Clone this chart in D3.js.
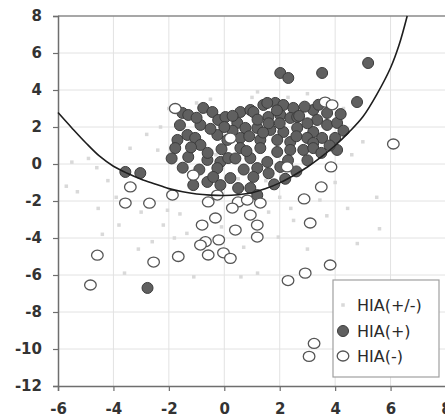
<!DOCTYPE html>
<html>
<head>
<meta charset="utf-8">
<script src="https://cdn.jsdelivr.net/npm/d3@7"></script>
<style>
  html, body { margin: 0; padding: 0; background: #fff; }
  svg { display: block; }
</style>
</head>
<body>
<svg id="chart" width="445" height="419"></svg>
<script>
// ---- data ----
const xTicks = [-6, -4, -2, 0, 2, 4, 6, 8];
const yTicks = [-12, -10, -8, -6, -4, -2, 0, 2, 4, 6, 8];
const seriesNames = ["HIA(+/-)", "HIA(+)", "HIA(-)"];

// HIA(+/-): small light grey markers
const hiaMixed = [
  [-5.3,-1.5],[-4.55,-2.4],[-3.4,0.85],[-2.4,0.75],[-2.05,-2.5],[-1.35,-3.75],[1.95,-3.95],
  [2.5,-3.05],[4.45,-2.4],[3.45,-1.95],[-5.7,-1.2],[-4.9,0.3],[-4.2,-0.9],[-3.8,-3.3],
  [-3.1,-4.6],[-3.6,-5.9],[-2.2,-3.3],[-1.6,-2.7],[-1.0,-1.0],[-0.3,0.5],[0.5,-0.8],
  [1.5,-0.9],[2.4,-2.4],[3.0,-4.6],[3.7,-2.8],[4.0,-1.0],[4.6,0.5],[5.0,1.2],[4.3,3.0],
  [3.0,3.8],[1.0,3.6],[-0.5,3.5],[-1.0,3.3],[-2.3,2.0],[-2.8,1.6],[-3.0,-2.6],[-4.4,-3.8],
  [-5.5,0.1],[-1.8,-4.0],[0.7,-4.5],[1.6,-2.6],[2.0,-1.8],[-0.1,-3.4],[0.6,-6.1],
  [5.5,-1.8],[5.6,-3.5],[4.8,-4.3],[-2.6,-4.2],[-3.9,-1.8],[1.2,3.9],[2.3,3.6],[-2.0,3.0],
  [-4.6,-0.2],[1.2,-5.9],[-1.1,-6.1]
];

// HIA(+): dark filled circles
const hiaPos = [
  [-1.51,2.76],[-1.30,2.65],[-0.76,3.03],[-0.43,2.81],[-0.86,2.11],[-0.22,2.38],[0.04,2.54],
  [0.58,2.81],[0.94,2.92],[0.47,2.22],[0.76,1.95],[-1.33,1.57],[-1.69,1.30],[-1.05,1.41],
  [-0.25,1.57],[0.11,1.30],[0.58,1.41],[1.05,2.81],[1.41,3.19],[1.84,3.30],[2.13,3.19],
  [2.49,3.03],[1.59,2.54],[2.02,2.65],[2.38,2.49],[3.21,2.92],[3.71,2.76],[3.35,2.38],
  [3.71,2.11],[4.07,2.22],[1.19,1.95],[1.66,1.84],[2.13,1.73],[2.63,1.95],[3.21,1.73],
  [1.30,1.30],[1.91,1.30],[2.38,1.19],[2.99,1.41],[3.53,1.41],[4.00,1.41],[3.21,1.14],
  [-1.77,0.86],[-1.30,0.38],[-0.86,1.03],[-0.61,0.22],[-0.14,0.11],[0.14,0.32],[-0.25,-0.22],
  [0.58,0.86],[0.94,0.32],[1.30,0.86],[1.19,-0.22],[1.05,-0.70],[1.55,0.11],[1.91,0.65],
  [2.02,-0.16],[2.38,0.76],[2.85,0.76],[3.21,0.86],[4.07,0.76],[-1.12,-1.14],[-0.61,-0.97],
  [-0.14,-1.14],[0.22,-0.76],[0.94,-1.30],[1.19,-1.68],[-3.03,-0.49],[-3.57,-0.43],
  [2.02,4.92],[2.31,4.65],[3.53,4.92],[5.19,5.46],[4.79,3.35],[-2.77,-6.70],[1.55,3.30],
  [2.63,2.54],[-1.6,2.1],[-1.0,2.5],[-0.5,1.9],[0.3,1.8],[0.9,1.5],[1.6,2.2],[2.7,2.6],
  [3.0,2.2],[2.0,2.2],[1.2,2.4],[0.3,2.6],[-0.1,0.8],[0.4,0.3],[0.7,-0.3],[1.6,-0.5],
  [2.3,0.2],[2.6,-0.4],[3.0,0.2],[3.5,0.6],[3.8,1.0],[4.3,1.8],[-1.5,-0.2],[-0.9,-0.3],
  [-0.4,-0.7],[0.5,-1.3],[1.8,-1.1],[-1.9,0.3],[-1.2,0.9],[0.0,2.0],[1.9,2.9],[2.9,3.1],
  [3.4,3.2],[4.2,2.7],[2.2,-0.8],[-0.6,0.6],[0.8,0.7],[1.4,1.7],[2.6,1.5]
];

// HIA(-): open circles
const hiaNeg = [
  [-1.77,3.0],[3.64,3.35],[3.89,3.2],[6.1,1.08],[3.85,-0.16],[3.5,-1.24],[2.88,-1.89],
  [3.1,-3.19],[3.82,-5.46],[2.92,-5.9],[3.24,-9.7],[3.06,-10.4],[2.3,-6.3],[-3.39,-1.24],
  [-3.57,-2.11],[-2.7,-2.12],[-4.58,-4.93],[-4.83,-6.54],[-1.12,-0.6],[-1.87,-1.68],
  [-0.58,-2.05],[-0.32,-2.92],[-0.8,-3.3],[-0.68,-4.2],[-0.2,-4.1],[-0.86,-4.38],
  [-0.58,-4.92],[-0.03,-4.8],[0.22,-5.1],[-1.66,-5.0],[-2.55,-5.3],[0.4,-3.57],[0.94,-2.76],
  [1.19,-3.3],[1.19,-3.95],[1.3,-2.11],[0.5,-2.05],[0.29,-2.38],[0.83,-1.95],[2.27,-0.16],
  [-0.25,-1.68],[0.22,1.4]
];

// decision boundary curve
const boundary = [
  [-6,2.78],[-5.5,1.95],[-5.0,1.15],[-4.5,0.42],[-4.0,-0.12],[-3.5,-0.5],[-3.0,-0.82],
  [-2.5,-1.08],[-2.0,-1.33],[-1.5,-1.5],[-1.0,-1.62],[-0.5,-1.68],[0,-1.7],[0.5,-1.66],
  [1.0,-1.55],[1.5,-1.33],[2.0,-1.02],[2.5,-0.62],[3.0,-0.16],[3.5,0.38],[4.0,1.0],
  [4.5,1.72],[5.0,2.55],[5.5,3.75],[6.0,5.2],[6.3,6.4],[6.6,8.0]
];

// ---- drawing ----
(function () {
const svg = d3.select("#chart");
const pL = 58, pR = 446, pT = 16, pB = 386;
const x = d3.scaleLinear().domain([-6, 8]).range([pL, pR]);
const y = d3.scaleLinear().domain([-12, 8]).range([pB, pT]);
const font = "'DejaVu Sans', Arial, sans-serif";

// gridlines
const grid = svg.append("g");
grid.selectAll("line.v").data(xTicks.slice(1)).join("line")
  .attr("x1", d => x(d)).attr("x2", d => x(d))
  .attr("y1", pT).attr("y2", pB)
  .attr("stroke", "#e2e2e2").attr("stroke-width", 1);
grid.selectAll("line.h").data(yTicks.slice(1, -1)).join("line")
  .attr("x1", pL).attr("x2", pR)
  .attr("y1", d => y(d)).attr("y2", d => y(d))
  .attr("stroke", "#e2e2e2").attr("stroke-width", 1);

// top border
svg.append("line").attr("x1", pL).attr("x2", pR)
  .attr("y1", y(8)).attr("y2", y(8))
  .attr("stroke", "#8a8a8a").attr("stroke-width", 1.5);

// axes
const yAxis = svg.append("g").attr("transform", `translate(${pL},0)`)
  .call(d3.axisLeft(y).tickValues(yTicks).tickSize(5).tickPadding(11).tickFormat(d => String(d)));
const xAxis = svg.append("g").attr("transform", `translate(0,${pB})`)
  .call(d3.axisBottom(x).tickValues(xTicks).tickSize(5).tickPadding(12).tickFormat(d => String(d)));
[yAxis, xAxis].forEach(g => {
  g.select(".domain").attr("stroke", "#6e6e6e").attr("stroke-width", 1.5);
  g.selectAll(".tick line").attr("stroke", "#6e6e6e").attr("stroke-width", 1.2);
  g.selectAll(".tick text").attr("fill", "#333")
    .style("font-family", font).style("font-size", "15px").style("font-weight", "bold");
});

// HIA(+/-)
svg.append("g").selectAll("rect").data(hiaMixed).join("rect")
  .attr("x", d => x(d[0]) - 1.75).attr("y", d => y(d[1]) - 1.75)
  .attr("width", 3.5).attr("height", 3.5)
  .attr("fill", "#d9d9d9");

// HIA(+)
svg.append("g").selectAll("circle").data(hiaPos).join("circle")
  .attr("cx", d => x(d[0])).attr("cy", d => y(d[1])).attr("r", 5.5)
  .attr("fill", "#606060").attr("stroke", "#3c3c3c").attr("stroke-width", 1);

// HIA(-)
svg.append("g").selectAll("ellipse").data(hiaNeg).join("ellipse")
  .attr("cx", d => x(d[0])).attr("cy", d => y(d[1])).attr("rx", 5.8).attr("ry", 5)
  .attr("fill", "#fff").attr("stroke", "#555").attr("stroke-width", 1.3);

// boundary curve
svg.append("path").datum(boundary)
  .attr("d", d3.line().x(d => x(d[0])).y(d => y(d[1])).curve(d3.curveCatmullRom))
  .attr("fill", "none").attr("stroke", "#1e1e1e").attr("stroke-width", 1.6);

// legend
const lg = svg.append("g");
lg.append("rect").attr("x", 333).attr("y", 280).attr("width", 106).attr("height", 97)
  .attr("fill", "#fff").attr("stroke", "#a0a0a0").attr("stroke-width", 1.2);
const rows = [305, 331, 356];
lg.append("rect").attr("x", 343 - 1.75).attr("y", rows[0] - 1.75).attr("width", 3.5).attr("height", 3.5).attr("fill", "#d9d9d9");
lg.append("circle").attr("cx", 343).attr("cy", rows[1]).attr("r", 5.5)
  .attr("fill", "#606060").attr("stroke", "#3c3c3c");
lg.append("ellipse").attr("cx", 343).attr("cy", rows[2]).attr("rx", 5.8).attr("ry", 5)
  .attr("fill", "#fff").attr("stroke", "#555").attr("stroke-width", 1.3);
lg.selectAll("text").data(seriesNames).join("text")
  .attr("x", 357).attr("y", (d, i) => rows[i]).attr("dy", "0.36em")
  .attr("fill", "#2a2a2a").style("font-family", font).style("font-size", "16px")
  .text(d => d);
})();
</script>
</body>
</html>
